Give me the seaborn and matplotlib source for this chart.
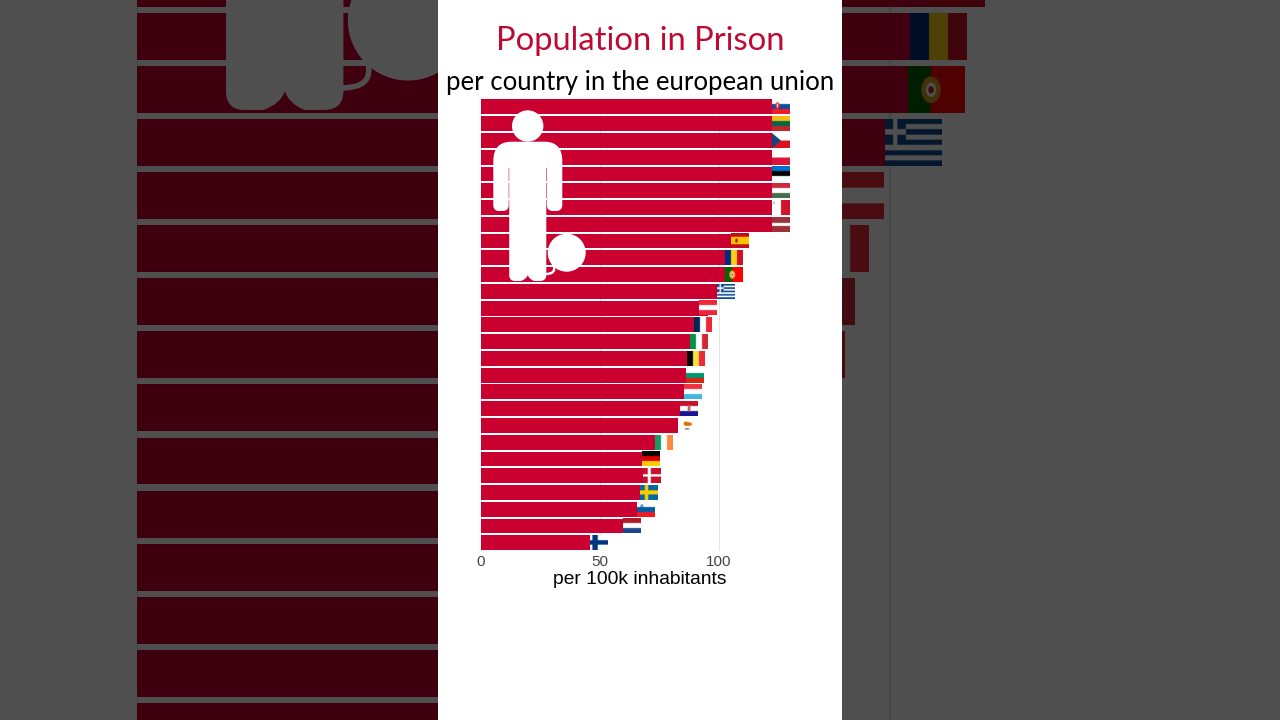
import numpy as np
import pandas as pd
import matplotlib
matplotlib.use("Agg")
import matplotlib.pyplot as plt
from matplotlib.path import Path
from matplotlib.patches import PathPatch, Ellipse
from matplotlib.transforms import Affine2D
import seaborn as sns

countries = ["Slovakia", "Lithuania", "Czechia", "Poland", "Estonia", "Hungary", "Malta",
             "Latvia", "Spain", "Romania", "Portugal", "Greece", "Austria", "France", "Italy",
             "Belgium", "Bulgaria", "Luxembourg", "Croatia", "Cyprus", "Ireland", "Germany",
             "Denmark", "Sweden", "Slovenia", "Netherlands", "Finland"]
rates = [126, 126, 126, 126, 126, 126, 126, 126, 108.8, 106.4, 106.1, 103.1, 95.4, 93.4, 91.6,
         90.3, 89.9, 89, 87.3, 86.5, 76.7, 71.6, 71.7, 70.5, 69.3, 63.4, 49.6]
x_ticks = [0, 50, 100]

BAR_RED = "#C90030"
TITLE_RED = "#BE0A33"
W_PX, H_PX = 1280, 720
LEFT, TOP, WIDTH, HEIGHT = 481.0, 98.5, 319.0, 452.7
ZOOM = 3.165

# national colours
STRIPES_H = {
    "Slovakia": ["#FFFFFF", "#0B4EA2", "#EE1C25"],
    "Lithuania": ["#FDB913", "#006A44", "#C1272D"],
    "Poland": ["#FFFFFF", "#DC143C"],
    "Estonia": ["#0072CE", "#000000", "#FFFFFF"],
    "Hungary": ["#CD2A3E", "#FFFFFF", "#436F4D"],
    "Latvia": ["#9E3039", "#9E3039", "#FFFFFF", "#9E3039", "#9E3039"],
    "Spain": ["#C60B1E", "#FFC400", "#FFC400", "#C60B1E"],
    "Austria": ["#ED2939", "#FFFFFF", "#ED2939"],
    "Bulgaria": ["#FFFFFF", "#00966E", "#D62612"],
    "Luxembourg": ["#EF3340", "#FFFFFF", "#41B6E6"],
    "Croatia": ["#C8102E", "#FFFFFF", "#171796"],
    "Germany": ["#000000", "#DD0000", "#FFCE00"],
    "Slovenia": ["#FFFFFF", "#005DA4", "#ED1C24"],
    "Netherlands": ["#AE1C28", "#FFFFFF", "#21468B"],
}
STRIPES_V = {
    "Romania": ["#002B7F", "#FCD116", "#CE1126"],
    "France": ["#002654", "#FFFFFF", "#ED2939"],
    "Italy": ["#009246", "#FFFFFF", "#CE2B37"],
    "Belgium": ["#000000", "#FAE042", "#ED2939"],
    "Ireland": ["#169B62", "#FFFFFF", "#FF883E"],
}
# field colour, cross colour, vertical arm start and end, horizontal arm half height
NORDIC = {
    "Denmark": ("#C8102E", "#FFFFFF", .27, .44, .08),
    "Sweden": ("#006AA7", "#FECC00", .27, .46, .14),
    "Finland": ("#FFFFFF", "#003580", .14, .44, .15),
}


def rgb(c):
    return np.array(matplotlib.colors.to_rgb(c))


def blob(img, cx, cy, rx, ry, colour):
    """Paint a small ellipse, given in fractions of the flag, onto a flag array."""
    h, w, _ = img.shape
    yy, xx = np.mgrid[0:h, 0:w]
    mask = ((xx / w - cx) / rx) ** 2 + ((yy / h - cy) / ry) ** 2 <= 1
    img[mask] = rgb(colour)


def flag_image(name):
    h, w = 84, 120
    img = np.ones((h, w, 3))
    if name in STRIPES_H:
        cols = STRIPES_H[name]
        for i, c in enumerate(cols):
            img[i * h // len(cols):(i + 1) * h // len(cols)] = rgb(c)
    elif name in STRIPES_V:
        cols = STRIPES_V[name]
        for i, c in enumerate(cols):
            img[:, i * w // len(cols):(i + 1) * w // len(cols)] = rgb(c)
    elif name in NORDIC:
        field, cross, v0, v1, hh = NORDIC[name]
        img[:] = rgb(field)
        img[int(h * (.5 - hh)):int(h * (.5 + hh))] = rgb(cross)
        img[:, int(w * v0):int(w * v1)] = rgb(cross)
    elif name == "Czechia":
        img[h // 2:] = rgb("#D7141A")
        yy, xx = np.mgrid[0:h, 0:w]
        img[xx / (w / 2) < 1 - np.abs(yy / (h / 2) - 1)] = rgb("#11457E")
    elif name == "Malta":
        img[:, w // 2:] = rgb("#CF142B")
        blob(img, .12, .18, .05, .08, "#B0B0B0")
    elif name == "Portugal":
        img[:] = rgb("#FF0000")
        img[:, :int(w * .4)] = rgb("#006600")
        blob(img, .4, .5, .17, .28, "#D8A020")
        blob(img, .4, .5, .09, .15, "#FFFFFF")
        blob(img, .4, .5, .05, .08, "#CC2222")
    elif name == "Greece":
        navy = rgb("#0D4A8F")
        for i in range(9):
            if i % 2 == 0:
                img[i * h // 9:(i + 1) * h // 9] = navy
        img[:5 * h // 9, :int(w * .37)] = navy
        img[2 * h // 9:3 * h // 9, :int(w * .37)] = 1
        img[:5 * h // 9, int(w * .148):int(w * .222)] = 1
    elif name == "Cyprus":
        blob(img, .54, .4, .24, .13, "#D57800")
        blob(img, .44, .34, .13, .11, "#D57800")
        blob(img, .5, .72, .14, .05, "#6E7B51")
    if name == "Spain":
        blob(img, .3, .5, .07, .14, "#AD1519")
    if name == "Slovakia":
        blob(img, .3, .45, .12, .24, "#EE1C25")
        blob(img, .3, .42, .04, .14, "#FFFFFF")
    if name == "Croatia":
        blob(img, .5, .48, .08, .24, "#C0606A")
    if name == "Slovenia":
        blob(img, .27, .3, .08, .15, "#005DA4")
        blob(img, .27, .27, .03, .06, "#FFFFFF")
    return img


def person_paths():
    """Outline pieces of the prisoner figure, in pixel units of the chart area."""
    arms = [(493.3, 161), (493.3, 142), (511, 141.7), (528, 141.7), (545, 141.7), (562.3, 142),
            (562.3, 161), (562.3, 205), (562.3, 211), (556, 211), (553, 211), (546.8, 211),
            (546.8, 205), (546.8, 168), (508.7, 168), (508.7, 205), (508.7, 211), (503, 211),
            (499, 211), (493.3, 211), (493.3, 205), (493.3, 161)]
    codes_arms = [Path.MOVETO, Path.CURVE3, Path.CURVE3, Path.LINETO, Path.LINETO, Path.CURVE3,
                  Path.CURVE3, Path.LINETO, Path.CURVE3, Path.CURVE3, Path.LINETO, Path.CURVE3,
                  Path.CURVE3, Path.LINETO, Path.LINETO, Path.LINETO, Path.CURVE3, Path.CURVE3,
                  Path.LINETO, Path.CURVE3, Path.CURVE3, Path.CLOSEPOLY]
    torso = [(509.2, 160), (546.3, 160), (546.3, 275), (546.3, 281), (540, 281), (534, 281),
             (529, 279), (527.8, 275), (526.6, 279), (521, 281), (515, 281), (509.2, 281),
             (509.2, 275), (509.2, 160)]
    codes_torso = [Path.MOVETO, Path.LINETO, Path.LINETO, Path.CURVE3, Path.CURVE3, Path.LINETO,
                   Path.CURVE3, Path.CURVE3, Path.CURVE3, Path.CURVE3, Path.LINETO, Path.CURVE3,
                   Path.CURVE3, Path.CLOSEPOLY]
    return [Path(arms, codes_arms), Path(torso, codes_torso)]


def draw_chart(ax, line_scale=1.0):
    frame = pd.DataFrame({"country": countries, "rate": rates})
    sns.barplot(data=frame, x="rate", y="country", color=BAR_RED, saturation=1, width=0.885,
                orient="h", ax=ax, zorder=2, linewidth=0)
    half_w, half_h = 3.78, 0.44
    for row, (name, value) in enumerate(zip(countries, rates)):
        ax.imshow(flag_image(name), aspect="auto", zorder=3, interpolation="bilinear",
                  extent=(value - half_w, value + half_w, row + half_h, row - half_h))
    ax.set_xlim(0, WIDTH / 2.38)
    ax.set_ylim(26.5, -0.5)
    ax.set_xlabel("")
    ax.set_ylabel("")
    ax.set_yticks([])
    ax.set_xticks(x_ticks)
    ax.grid(axis="x", color="#E4E4E4", lw=0.7 * line_scale)
    ax.set_axisbelow(True)
    ax.patch.set_alpha(0)
    sns.despine(ax=ax, left=True, bottom=True)

    to_axes = Affine2D().translate(-LEFT, -TOP).scale(1 / WIDTH, -1 / HEIGHT).translate(0, 1) + ax.transAxes
    for path in person_paths():
        ax.add_patch(PathPatch(path, fc="white", ec="none", lw=0, transform=to_axes, zorder=4))
    ax.add_patch(Ellipse((527.7, 126), 31.4, 31.4, fc="white", ec="none", lw=0, transform=to_axes, zorder=4))
    ax.add_patch(Ellipse((566.7, 252.7), 38, 38, fc="white", ec="none", lw=0, transform=to_axes, zorder=4))
    chain = Path([(546, 274), (556, 274), (554, 266)], [Path.MOVETO, Path.CURVE3, Path.CURVE3])
    ax.add_patch(PathPatch(chain, fc="none", ec="white", lw=1.8 * line_scale, transform=to_axes, zorder=4))


def box(left, top, width, height):
    return [left / W_PX, 1 - (top + height) / H_PX, width / W_PX, height / H_PX]


sns.set_theme(style="white")
plt.rcParams["font.family"] = ["Lato", "DejaVu Sans"]

fig = plt.figure(figsize=(12.8, 7.2), dpi=100, facecolor="white")

# enlarged copy of the chart behind the central panel
back = fig.add_axes(box(640 + (LEFT - 640) * ZOOM, 360 + (TOP - 360) * ZOOM, WIDTH * ZOOM, HEIGHT * ZOOM), zorder=1)
draw_chart(back, ZOOM * 0.7)
back.set_xticklabels([])
back.tick_params(length=0)

# dimming layer over the enlarged copy
shade = fig.add_axes([0, 0, 1, 1], zorder=2)
shade.set_axis_off()
shade.add_patch(plt.Rectangle((0, 0), 1, 1, fc="black", ec="none", lw=0, alpha=0.69,
                              transform=shade.transAxes))

# central white panel
panel = fig.add_axes(box(438, 0, 404, 720), zorder=3, facecolor="white")
panel.set_xticks([])
panel.set_yticks([])
for spine in panel.spines.values():
    spine.set_visible(False)

main = fig.add_axes(box(LEFT, TOP, WIDTH, HEIGHT), zorder=4)
draw_chart(main)
main.tick_params(axis="x", length=0, pad=2.8, labelsize=11, labelcolor="#444444")
for label in main.get_xticklabels():
    label.set_fontfamily(["Liberation Sans"])

fig.text(640 / W_PX, 1 - 40.5 / H_PX, "Population in Prison", color=TITLE_RED, fontsize=23.6,
         ha="center", va="center", zorder=5)
fig.text(640 / W_PX, 1 - 82.5 / H_PX, "per country in the european union", color="black", fontsize=18.55,
         ha="center", va="center", zorder=5)
fig.text(640 / W_PX, 1 - 579.5 / H_PX, "per 100k inhabitants", color="black", fontsize=13.9,
         family=["Liberation Sans"], ha="center", va="center", zorder=5)

fig.savefig("out.png", dpi=100)
